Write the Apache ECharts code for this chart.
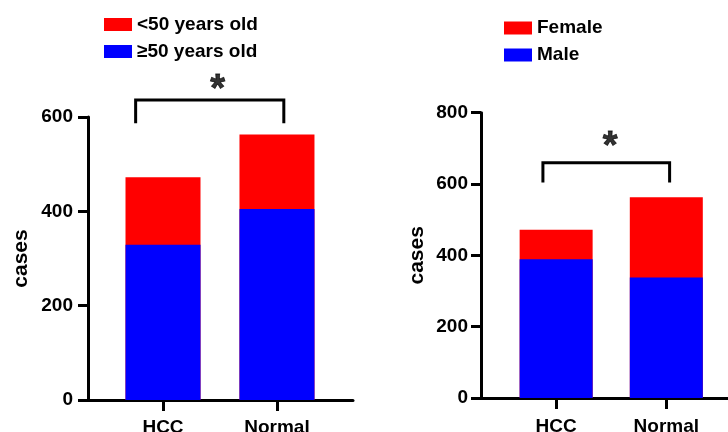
<!DOCTYPE html>
<html>
<head>
<meta charset="utf-8">
<script src="https://cdn.jsdelivr.net/npm/echarts@6/dist/echarts.min.js"></script>
<style>html,body{margin:0;padding:0;background:#fff}#c{width:728px;height:432px}</style>
</head>
<body>
<div id="c"></div>
<script>
// ---- data ----
const categories = ['HCC', 'Normal'];
const ageOver50 = [329, 405];   // ≥50 years old (blue, bottom)
const ageUnder50 = [143, 158];  // <50 years old (red, top)
const male = [389, 338];        // Male (blue, bottom)
const female = [83, 225];       // Female (red, top)
const ageTicks = [0, 200, 400, 600];
const sexTicks = [0, 200, 400, 600, 800];
// significance annotations (data coordinates)
const ageBracket = [[-0.24, 587], [-0.24, 636], [1.06, 636], [1.06, 587]];
const ageStar = [[0.48, 657]];
const sexBracket = [[-0.12, 604], [-0.12, 660], [1.03, 660], [1.03, 604]];
const sexStar = [[0.49, 703]];

const FONT = "'Liberation Sans', Arial, sans-serif";
const RED = '#FF0000', BLUE = '#0000FF';

const chart = echarts.init(document.getElementById('c'), null, {renderer: 'canvas'});

function xAxisDef(gridIndex, min, max, margin) {
  return {
    type: 'value', gridIndex, min, max,
    splitLine: {show: false},
    axisLine: {show: true, onZero: false, lineStyle: {color: '#000', width: 3}},
    axisTick: {show: true, customValues: categories.map((_, i) => i), length: 11, inside: false,
               lineStyle: {color: '#000', width: 3}},
    axisLabel: {show: true, customValues: categories.map((_, i) => i), margin,
                formatter: v => categories[Math.round(v)] || '',
                color: '#000', fontFamily: FONT, fontWeight: 'bold', fontSize: 19}
  };
}
function yAxisDef(gridIndex, ticks, nameGap, margin) {
  return {
    type: 'value', gridIndex, min: ticks[0], max: ticks[ticks.length - 1], interval: ticks[1] - ticks[0],
    name: 'cases', nameLocation: 'middle', nameRotate: 90, nameGap,
    nameTextStyle: {color: '#000', fontFamily: FONT, fontWeight: 'bold', fontSize: 21},
    splitLine: {show: false},
    axisLine: {show: true, onZero: false, lineStyle: {color: '#000', width: 3}},
    axisTick: {show: true, length: 10, lineStyle: {color: '#000', width: 3}},
    axisLabel: {margin, color: '#000', fontFamily: FONT, fontWeight: 'bold', fontSize: 19}
  };
}
// stacked look: top segment drawn as total height, bottom segment overlaid on it
function bars(name, values, color, idx, width, z) {
  return {
    name, type: 'bar', xAxisIndex: idx, yAxisIndex: idx,
    barWidth: width, barGap: '-100%', itemStyle: {color}, z,
    data: values.map((v, i) => [i, v])
  };
}
function bracket(data, idx) {
  return {type: 'line', xAxisIndex: idx, yAxisIndex: idx, data, clip: false, symbol: 'none',
          silent: true, lineStyle: {color: '#000', width: 3, join: 'miter', cap: 'butt'}, z: 5};
}
function star(data, idx) {
  return {type: 'scatter', xAxisIndex: idx, yAxisIndex: idx, data, clip: false, symbolSize: 0, silent: true,
          label: {show: true, position: 'inside', formatter: '*', color: '#000',
                  textBorderColor: '#000', textBorderWidth: 0.8,
                  fontFamily: FONT, fontWeight: 'bold', fontSize: 38}, z: 5};
}

const ageTotal = ageOver50.map((v, i) => v + ageUnder50[i]);
const sexTotal = male.map((v, i) => v + female[i]);

chart.setOption({
  animation: false,
  backgroundColor: '#fff',
  grid: [
    {left: 88, right: 375, top: 117, bottom: 32, outerBoundsMode: 'none', containLabel: false},
    {left: 481, right: 0, top: 112.7, bottom: 34, outerBoundsMode: 'none', containLabel: false}
  ],
  legend: [
    {data: ['<50 years old', '≥50 years old'], orient: 'vertical', left: 99, top: 10,
     itemWidth: 28, itemHeight: 13, itemGap: 8, icon: 'rect',
     textStyle: {color: '#000', fontFamily: FONT, fontWeight: 'bold', fontSize: 19}},
    {data: ['Female', 'Male'], orient: 'vertical', left: 499, top: 13.5,
     itemWidth: 28, itemHeight: 13, itemGap: 8, icon: 'rect',
     textStyle: {color: '#000', fontFamily: FONT, fontWeight: 'bold', fontSize: 19}}
  ],
  xAxis: [xAxisDef(0, -0.658, 1.667, 18), xAxisDef(1, -0.682, 1.56, 19)],
  yAxis: [yAxisDef(0, ageTicks, 56, 15), yAxisDef(1, sexTicks, 53, 13)],
  series: [
    bars('<50 years old', ageTotal, RED, 0, 75, 2),
    bars('≥50 years old', ageOver50, BLUE, 0, 75, 3),
    bars('Female', sexTotal, RED, 1, 73, 2),
    bars('Male', male, BLUE, 1, 73, 3),
    bracket(ageBracket, 0), star(ageStar, 0),
    bracket(sexBracket, 1), star(sexStar, 1)
  ]
});
</script>
</body>
</html>
